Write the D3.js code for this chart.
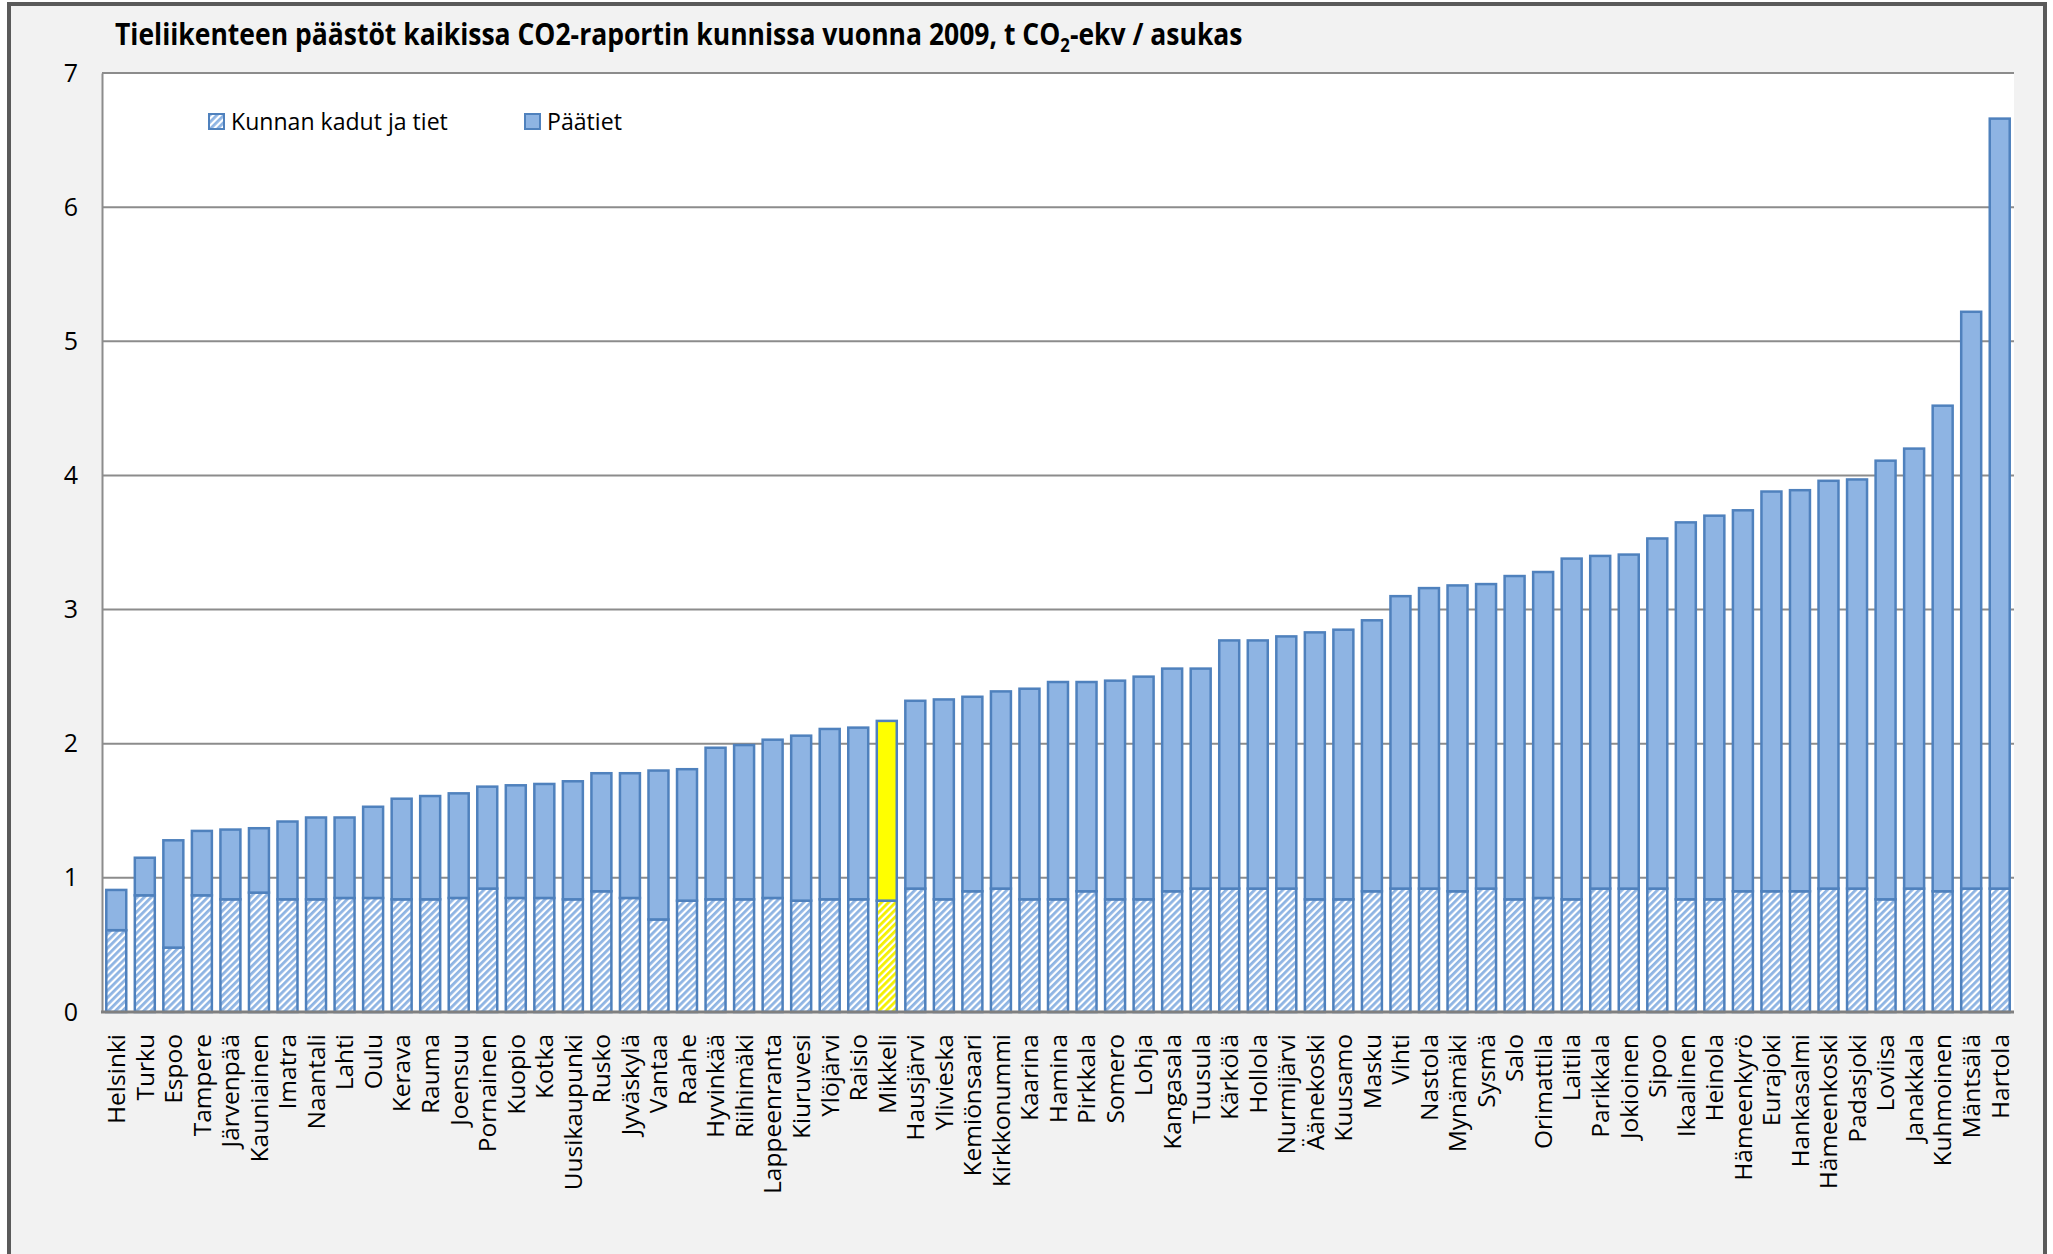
<!DOCTYPE html>
<html>
<head>
<meta charset="utf-8">
<script src="https://cdn.jsdelivr.net/npm/d3@7"></script>
<style>
  html, body { margin: 0; padding: 0; background: #ffffff; }
  svg { display: block; }
</style>
</head>
<body>
<svg id="chart"></svg>
<script>
// Municipalities (sorted by total emissions)
const kunnat = [
  'Helsinki', 'Turku', 'Espoo', 'Tampere', 'Järvenpää', 'Kauniainen', 'Imatra', 'Naantali', 'Lahti', 'Oulu',
  'Kerava', 'Rauma', 'Joensuu', 'Pornainen', 'Kuopio', 'Kotka', 'Uusikaupunki', 'Rusko', 'Jyväskylä', 'Vantaa',
  'Raahe', 'Hyvinkää', 'Riihimäki', 'Lappeenranta', 'Kiuruvesi', 'Ylöjärvi', 'Raisio', 'Mikkeli', 'Hausjärvi', 'Ylivieska',
  'Kemiönsaari', 'Kirkkonummi', 'Kaarina', 'Hamina', 'Pirkkala', 'Somero', 'Lohja', 'Kangasala', 'Tuusula', 'Kärkölä',
  'Hollola', 'Nurmijärvi', 'Äänekoski', 'Kuusamo', 'Masku', 'Vihti', 'Nastola', 'Mynämäki', 'Sysmä', 'Salo',
  'Orimattila', 'Laitila', 'Parikkala', 'Jokioinen', 'Sipoo', 'Ikaalinen', 'Heinola', 'Hämeenkyrö', 'Eurajoki', 'Hankasalmi',
  'Hämeenkoski', 'Padasjoki', 'Loviisa', 'Janakkala', 'Kuhmoinen', 'Mäntsälä', 'Hartola'
];

// "Kunnan kadut ja tiet" (t CO2-ekv / asukas)
const kadut = [
  0.61, 0.87, 0.48, 0.87, 0.84, 0.89, 0.84, 0.84, 0.85, 0.85,
  0.84, 0.84, 0.85, 0.92, 0.85, 0.85, 0.84, 0.90, 0.85, 0.69,
  0.83, 0.84, 0.84, 0.85, 0.83, 0.84, 0.84, 0.83, 0.92, 0.84,
  0.90, 0.92, 0.84, 0.84, 0.90, 0.84, 0.84, 0.90, 0.92, 0.92,
  0.92, 0.92, 0.84, 0.84, 0.90, 0.92, 0.92, 0.90, 0.92, 0.84,
  0.85, 0.84, 0.92, 0.92, 0.92, 0.84, 0.84, 0.90, 0.90, 0.90,
  0.92, 0.92, 0.84, 0.92, 0.90, 0.92, 0.92
];

// "Päätiet" (t CO2-ekv / asukas)
const paatiet = [
  0.30, 0.28, 0.80, 0.48, 0.52, 0.48, 0.58, 0.61, 0.60, 0.68,
  0.75, 0.77, 0.78, 0.76, 0.84, 0.85, 0.88, 0.88, 0.93, 1.11,
  0.98, 1.13, 1.15, 1.18, 1.23, 1.27, 1.28, 1.34, 1.40, 1.49,
  1.45, 1.47, 1.57, 1.62, 1.56, 1.63, 1.66, 1.66, 1.64, 1.85,
  1.85, 1.88, 1.99, 2.01, 2.02, 2.18, 2.24, 2.28, 2.27, 2.41,
  2.43, 2.54, 2.48, 2.49, 2.61, 2.81, 2.86, 2.84, 2.98, 2.99,
  3.04, 3.05, 3.27, 3.28, 3.62, 4.30, 5.74
];

const yTicks = [0, 1, 2, 3, 4, 5, 6, 7];
const sarjat = ['Kunnan kadut ja tiet', 'Päätiet'];
const korostettu = 'Mikkeli';

// Dimensions
const width = 2053;
const height = 1254;
const plot = { left: 102, top: 73, right: 2014, bottom: 1012 };

const svg = d3.select('#chart')
  .attr('width', width)
  .attr('height', height);

// Hatch patterns (blue and yellow)
const defs = svg.append('defs');
function hatch(id, color) {
  const p = defs.append('pattern')
    .attr('id', id)
    .attr('patternUnits', 'userSpaceOnUse')
    .attr('width', 5)
    .attr('height', 5)
    .attr('patternTransform', 'rotate(45)');
  p.append('rect').attr('width', 5).attr('height', 5).attr('fill', '#ffffff');
  p.append('rect').attr('width', 2.8).attr('height', 5).attr('fill', color);
}
hatch('hatchBlue', '#8eb4e3');
hatch('hatchYellow', '#f4f000');

// Outer chart area with frame
svg.append('rect')
  .attr('x', 9).attr('y', 4)
  .attr('width', 2036).attr('height', 1270)
  .attr('fill', '#f2f2f2')
  .attr('stroke', '#5a5a5a')
  .attr('stroke-width', 4);

// Plot area
svg.append('rect')
  .attr('x', plot.left).attr('y', plot.top)
  .attr('width', plot.right - plot.left).attr('height', plot.bottom - plot.top)
  .attr('fill', '#ffffff');

// Scales
const x = d3.scaleBand().domain(kunnat).range([plot.left, plot.right]).paddingInner(0.3).paddingOuter(0.15);
const y = d3.scaleLinear().domain([0, 7]).range([plot.bottom, plot.top]);

// Gridlines
svg.append('g')
  .selectAll('line')
  .data(yTicks.slice(1))
  .enter()
  .append('line')
  .attr('x1', plot.left).attr('x2', plot.right)
  .attr('y1', (d) => y(d)).attr('y2', (d) => y(d))
  .attr('stroke', '#8c8c8c')
  .attr('stroke-width', 2);

// Y axis
const yAxis = svg.append('g')
  .attr('transform', `translate(${plot.left},0)`)
  .call(d3.axisLeft(y).tickValues(yTicks).tickSize(0).tickPadding(24).tickFormat(d3.format('d')));
yAxis.select('.domain').attr('stroke', '#8c8c8c').attr('stroke-width', 2);
yAxis.selectAll('text')
  .attr('font-family', 'Open Sans, sans-serif')
  .attr('font-size', 25)
  .attr('fill', '#000000');

// Stacked data
const rows = kunnat.map((k, i) => ({ kunta: k, kadut: kadut[i], paatiet: paatiet[i] }));
const stack = d3.stack().keys(['kadut', 'paatiet'])(rows);

const layers = svg.append('g')
  .selectAll('g')
  .data(stack)
  .enter()
  .append('g');

layers.selectAll('rect')
  .data((layer) => layer.map((d) => ({ key: layer.key, d })))
  .enter()
  .append('rect')
  .attr('x', (e) => x(e.d.data.kunta))
  .attr('width', x.bandwidth())
  .attr('y', (e) => y(e.d[1]))
  .attr('height', (e) => y(e.d[0]) - y(e.d[1]))
  .attr('fill', (e) => {
    const hl = e.d.data.kunta === korostettu;
    if (e.key === 'kadut') return hl ? 'url(#hatchYellow)' : 'url(#hatchBlue)';
    return hl ? '#ffff00' : '#8eb4e3';
  })
  .attr('stroke', '#4f81bd')
  .attr('stroke-width', 2.5);

// X axis line
svg.append('line')
  .attr('x1', plot.left - 1).attr('x2', plot.right)
  .attr('y1', plot.bottom).attr('y2', plot.bottom)
  .attr('stroke', '#808080')
  .attr('stroke-width', 3);

// X labels (rotated)
svg.append('g')
  .selectAll('text')
  .data(kunnat)
  .enter()
  .append('text')
  .attr('transform', (d) => `translate(${x(d) + x.bandwidth() / 2},${plot.bottom + 22}) rotate(-90)`)
  .attr('dy', '0.36em')
  .attr('text-anchor', 'end')
  .attr('font-family', 'Open Sans, sans-serif')
  .attr('font-size', 24.5)
  .attr('fill', '#000000')
  .text((d) => d);

// Title
const title = svg.append('text')
  .attr('x', 0).attr('y', 0)
  .attr('font-family', 'Open Sans, sans-serif')
  .attr('font-weight', 'bold')
  .attr('font-size', 30)
  .attr('fill', '#000000');
title.append('tspan').text('Tieliikenteen päästöt kaikissa CO2-raportin kunnissa vuonna 2009, t CO');
title.append('tspan').attr('font-size', 19).attr('dy', 7).text('2');
title.append('tspan').attr('dy', -7).text('-ekv / asukas');
const tw = title.node().getComputedTextLength();
title.attr('transform', `translate(115,45) scale(${1128 / tw},1)`);

// Legend
const legendItems = [
  { name: sarjat[0], fill: 'url(#hatchBlue)', x: 209, w: 217 },
  { name: sarjat[1], fill: '#8eb4e3', x: 525, w: 75 }
];
const legend = svg.append('g')
  .selectAll('g')
  .data(legendItems)
  .enter()
  .append('g')
  .attr('transform', (d) => `translate(${d.x},114)`);
legend.append('rect')
  .attr('width', 15).attr('height', 15)
  .attr('fill', (d) => d.fill)
  .attr('stroke', '#4f81bd')
  .attr('stroke-width', 2);
legend.append('text')
  .attr('font-family', 'Open Sans, sans-serif')
  .attr('font-size', 24)
  .attr('fill', '#000000')
  .text((d) => d.name)
  .each(function (d) {
    const w = this.getComputedTextLength();
    d3.select(this).attr('transform', `translate(22,16) scale(${d.w / w},1)`);
  });
</script>
</body>
</html>
